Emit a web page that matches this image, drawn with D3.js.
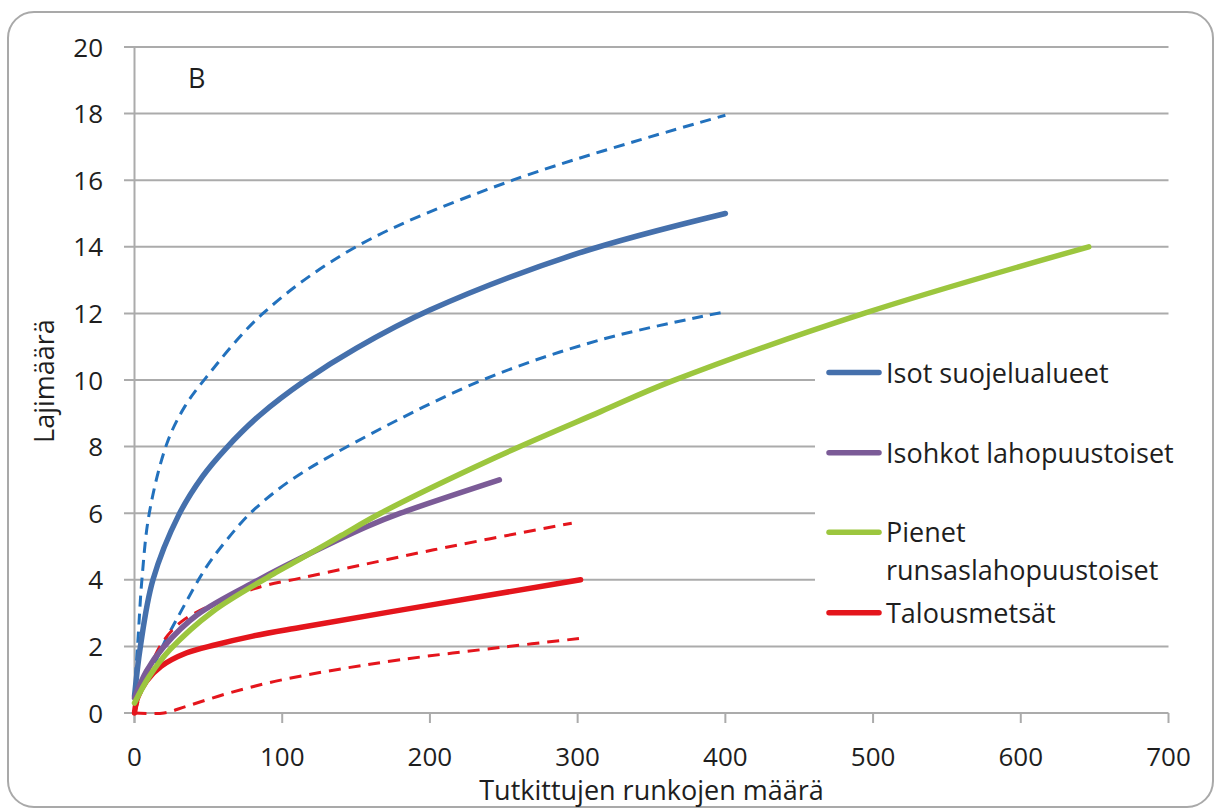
<!DOCTYPE html>
<html>
<head>
<meta charset="utf-8">
<script src="https://cdn.jsdelivr.net/npm/d3@7/dist/d3.min.js"></script>
<style>
  html, body { margin: 0; padding: 0; background: #fff; }
  text { font-family: 'Open Sans', Lato, sans-serif; fill: #1e1e1e; }
</style>
</head>
<body>
<div id="chart"></div>
<script>
// axis ticks
const xTicks = [0, 100, 200, 300, 400, 500, 600, 700]
const yTicks = [0, 2, 4, 6, 8, 10, 12, 14, 16, 18, 20]

// series: [runkoja, lajeja]
const isotMean = [[0, 0.5], [4, 2], [12.5, 4], [30, 5.95], [46, 7.1], [62, 7.95], [85, 8.95], [116, 10], [150, 10.95], [200, 12.1], [300, 13.8], [400, 15]]
const isotUpper = [[0, 0.5], [1, 1.3], [2.5, 2.3], [5, 4], [10, 6], [22, 8.1], [34, 9.2], [48, 10.05], [87, 12], [150, 14], [256, 16], [400, 17.95]]
const isotLower = [[14, 1.5], [20, 2.1], [29, 2.85], [44, 4.05], [52, 4.6], [71, 5.65], [82, 6.15], [104.5, 6.95], [142, 7.95], [233, 9.95], [315, 11.2], [400, 12.05]]
const isohkotMean = [[0, 0.45], [8, 1.25], [20, 2], [42.5, 2.95], [84, 4], [112, 4.64], [157.5, 5.6], [180, 6], [247, 7]]
const pienetMean = [[0, 0.3], [10, 1.1], [24, 1.9], [53, 3.05], [97, 4.25], [112, 4.62], [140, 5.33], [166.6, 6], [243.3, 7.65], [315.5, 9.05], [362.9, 9.95], [493.8, 12], [646, 14]]
const talousMean = [[0, 0], [2, 0.45], [8, 0.95], [18, 1.4], [35, 1.8], [55, 2.05], [80, 2.31], [112, 2.57], [200, 3.24], [302, 4]]
const talousUpper = [[0, 0], [5, 0.7], [11.8, 1.5], [18.6, 2.1], [32, 2.75], [55, 3.3], [86, 3.8], [112.4, 4.05], [202.6, 4.9], [296, 5.7]]
const talousLower = [[0, 0], [20, 0], [35, 0.2], [64, 0.6], [95, 0.95], [130, 1.25], [180, 1.6], [248, 1.97], [302, 2.24]]

const legendLabels = ['Isot suojelualueet', 'Isohkot lahopuustoiset', 'Pienet\nrunsaslahopuustoiset', 'Talousmetsät']

const blue = '#4570ac', blueDash = '#2271bd', purple = '#7b5b97', green = '#9cc63e', red = '#e4151c'

const series = [
  { data: isotUpper, color: blueDash, width: 3, dash: '11,7' },
  { data: isotLower, color: blueDash, width: 3, dash: '11,7' },
  { data: talousUpper, color: red, width: 3, dash: '12,8' },
  { data: talousLower, color: red, width: 3, dash: '12,8' },
  { data: isotMean, color: blue, width: 5.5 },
  { data: talousMean, color: red, width: 5.5 },
  { data: isohkotMean, color: purple, width: 5.5 },
  { data: pienetMean, color: green, width: 5.5 },
]
const legendColors = [blue, purple, green, red]

var width = 1215,
  height = 809

var svg = d3
  .select('#chart')
  .append('svg')
  .attr('width', width)
  .attr('height', height)

// outer frame
svg
  .append('rect')
  .attr('x', 8)
  .attr('y', 12)
  .attr('width', 1205)
  .attr('height', 795)
  .attr('rx', 26)
  .attr('fill', '#fff')
  .attr('stroke', '#a9a9a9')
  .attr('stroke-width', 2)

var x = d3.scaleLinear().domain([0, 700]).range([134.5, 1168.5])
var y = d3.scaleLinear().domain([0, 20]).range([713, 47])

// gridlines + y ticks
svg
  .append('g')
  .selectAll('line')
  .data(yTicks)
  .enter()
  .append('line')
  .attr('x1', 124)
  .attr('x2', x(700))
  .attr('y1', d => y(d))
  .attr('y2', d => y(d))
  .attr('stroke', '#ababab')
  .attr('stroke-width', 2)

// x axis ticks
svg
  .append('g')
  .selectAll('line')
  .data(xTicks)
  .enter()
  .append('line')
  .attr('x1', d => x(d))
  .attr('x2', d => x(d))
  .attr('y1', y(0))
  .attr('y2', y(0) + 10)
  .attr('stroke', '#ababab')
  .attr('stroke-width', 2)

// y axis line
svg
  .append('line')
  .attr('x1', x(0))
  .attr('x2', x(0))
  .attr('y1', y(20))
  .attr('y2', y(0) + 10)
  .attr('stroke', '#ababab')
  .attr('stroke-width', 2)

var tickSize = 26,
  labelSize = 27

svg
  .append('g')
  .selectAll('text')
  .data(yTicks)
  .enter()
  .append('text')
  .attr('x', 103)
  .attr('y', d => y(d) + 9.5)
  .attr('text-anchor', 'end')
  .style('font-size', tickSize + 'px')
  .text(d => d)

svg
  .append('g')
  .selectAll('text')
  .data(xTicks)
  .enter()
  .append('text')
  .attr('x', d => x(d))
  .attr('y', 766)
  .attr('text-anchor', 'middle')
  .style('font-size', tickSize + 'px')
  .text(d => d)

svg
  .append('text')
  .attr('x', (x(0) + x(700)) / 2)
  .attr('y', 800)
  .attr('text-anchor', 'middle')
  .style('font-size', labelSize + 'px')
  .text('Tutkittujen runkojen määrä')

svg
  .append('text')
  .attr('transform', 'translate(54,381) rotate(-90)')
  .attr('text-anchor', 'middle')
  .style('font-size', labelSize + 'px')
  .text('Lajimäärä')

svg
  .append('text')
  .attr('x', 188)
  .attr('y', 88)
  .style('font-size', labelSize + 'px')
  .text('B')

// legend box hides the gridlines behind it
svg
  .append('rect')
  .attr('x', 815)
  .attr('y', 345)
  .attr('width', 385)
  .attr('height', 288)
  .attr('fill', '#fff')

var line = d3
  .line()
  .x(d => x(d[0]))
  .y(d => y(d[1]))
  .curve(d3.curveCatmullRom.alpha(0.5))

svg
  .append('g')
  .selectAll('path')
  .data(series)
  .enter()
  .append('path')
  .attr('d', d => line(d.data))
  .attr('fill', 'none')
  .attr('stroke', d => d.color)
  .attr('stroke-width', d => d.width)
  .attr('stroke-dasharray', d => d.dash || null)
  .attr('stroke-linecap', d => (d.dash ? 'butt' : 'round'))

var legendY = [372.5, 452.7, 532.3, 612.7]

var legend = svg
  .append('g')
  .selectAll('g')
  .data(legendLabels)
  .enter()
  .append('g')
  .attr('transform', (d, i) => 'translate(0,' + legendY[i] + ')')

legend
  .append('line')
  .attr('x1', 829)
  .attr('x2', 879)
  .attr('stroke', (d, i) => legendColors[i])
  .attr('stroke-width', 5.5)
  .attr('stroke-linecap', 'round')

legend
  .append('text')
  .attr('x', 886)
  .attr('y', 10)
  .style('font-size', labelSize + 'px')
  .selectAll('tspan')
  .data(d => d.split('\n'))
  .enter()
  .append('tspan')
  .attr('x', 886)
  .attr('dy', (d, i) => (i ? 38 : 0))
  .text(d => d)
</script>
</body>
</html>
